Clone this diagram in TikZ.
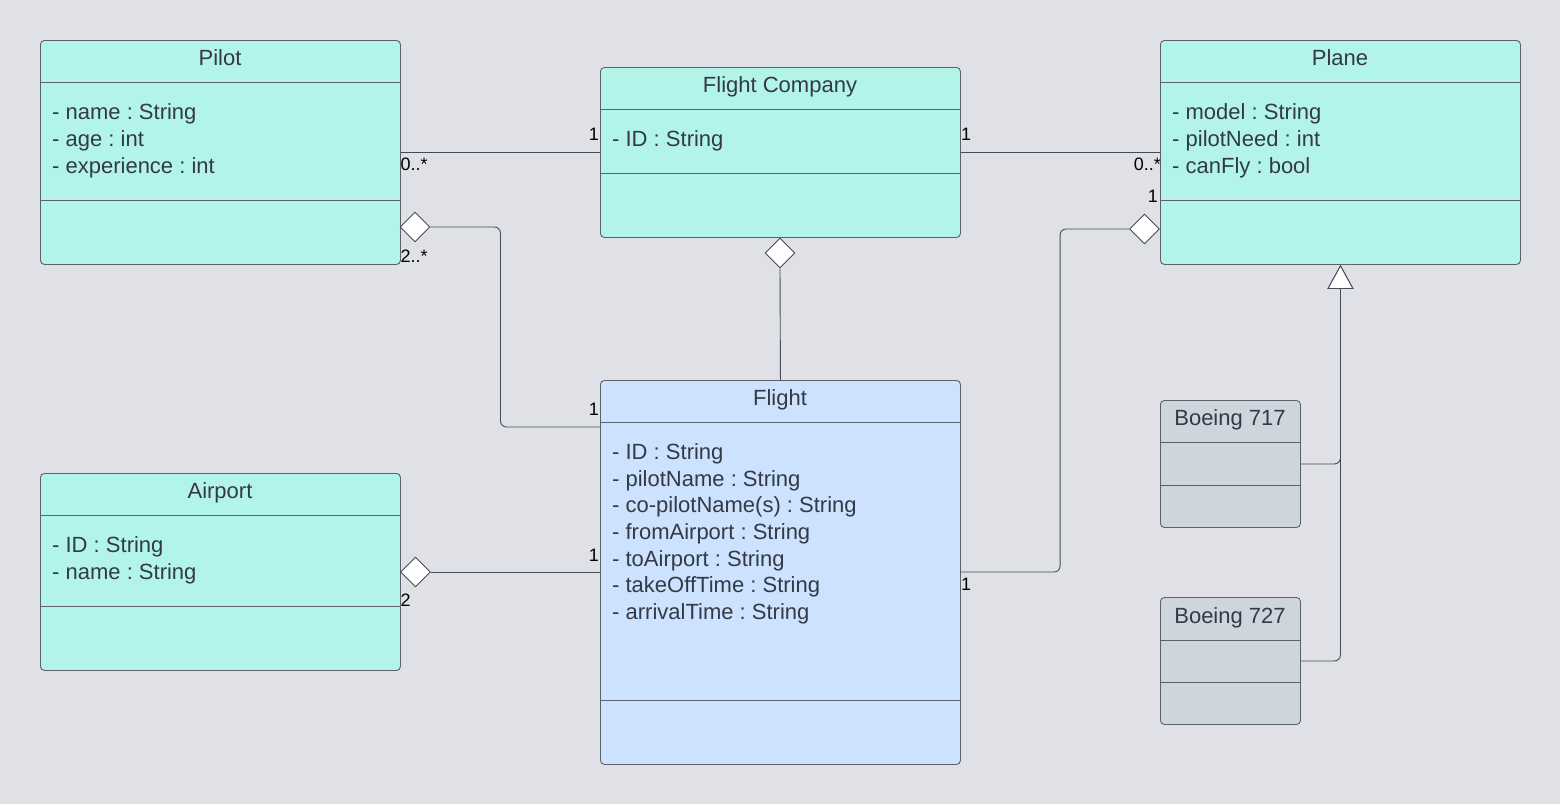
\documentclass[tikz,border=0pt]{standalone}
\usepackage{fontspec}
\setmainfont{Liberation Sans}
\usetikzlibrary{shapes.geometric,arrows.meta}
\frenchspacing
\definecolor{bgc}{HTML}{DFE1E6}
\definecolor{teal}{HTML}{B3F4EA}
\definecolor{blu}{HTML}{CCE2FE}
\definecolor{gry}{HTML}{CED5DD}
\definecolor{linec}{HTML}{5A616B}
\definecolor{connc}{HTML}{454B54}
\definecolor{txtc}{HTML}{333A45}
\tikzset{
  cls/.style={draw=linec, line width=0.9pt, rounded corners=4pt, anchor=north west, inner sep=0pt},
  div/.style={draw=linec, line width=0.9pt},
  ttl/.style={anchor=base, inner sep=0pt, text=txtc, font=\fontsize{22}{24}\selectfont},
  attr/.style={anchor=base west, inner sep=0pt, text=txtc, font=\fontsize{22}{24}\selectfont},
  mult/.style={inner sep=0pt, text=black, font=\fontsize{18}{20}\selectfont},
  conn/.style={draw=connc, line width=0.9pt, rounded corners=6pt},
  agg/.style={diamond, draw=connc, fill=white, line width=0.9pt, minimum width=30pt, minimum height=30pt, inner sep=0pt, aspect=1},
  gen/.style={-{Triangle[open, fill=white, length=24pt, width=26pt, line width=0.9pt]}}
}
\newcommand\attrlist[5]{% prefix, x, first baseline y, spacing, list
  \foreach \t [count=\i] in {#5} {\node[attr] (#1\i) at (#2, #3+#4*\i-#4) {\t};}}
\begin{document}
\begin{tikzpicture}[x=1pt,y=-1pt]
\useasboundingbox[fill=bgc] (0,0) rectangle (1560,804);

% Pilot
\node[cls, fill=teal, minimum width=360pt, minimum height=224pt] (pilot) at (40,40) {};
\draw[div] ([yshift=-42pt]pilot.north west) -- ([yshift=-42pt]pilot.north east);
\draw[div] ([yshift=-160pt]pilot.north west) -- ([yshift=-160pt]pilot.north east);
\node[ttl] (pilotT) at (220,65.5) {Pilot};
\attrlist{pa}{52}{119.5}{27}{- name : String,- age : int,- experience : int}

% Flight Company
\node[cls, fill=teal, minimum width=360pt, minimum height=170pt] (fc) at (600,67) {};
\draw[div] ([yshift=-42pt]fc.north west) -- ([yshift=-42pt]fc.north east);
\draw[div] ([yshift=-106pt]fc.north west) -- ([yshift=-106pt]fc.north east);
\node[ttl] (fcT) at (780,92.5) {Flight Company};
\attrlist{fca}{612}{146.5}{27}{- ID : String}

% Plane
\node[cls, fill=teal, minimum width=360pt, minimum height=224pt] (plane) at (1160,40) {};
\draw[div] ([yshift=-42pt]plane.north west) -- ([yshift=-42pt]plane.north east);
\draw[div] ([yshift=-160pt]plane.north west) -- ([yshift=-160pt]plane.north east);
\node[ttl] (planeT) at (1340,65.5) {Plane};
\attrlist{pla}{1172}{119.5}{27}{- model : String,- pilotNeed : int,- canFly : bool}

% Flight
\node[cls, fill=blu, minimum width=360pt, minimum height=384pt] (flight) at (600,380) {};
\draw[div] ([yshift=-42pt]flight.north west) -- ([yshift=-42pt]flight.north east);
\draw[div] ([yshift=-320pt]flight.north west) -- ([yshift=-320pt]flight.north east);
\node[ttl] (flightT) at (780,405.5) {Flight};
\attrlist{fa}{612}{459.5}{26.67}{- ID : String,- pilotName : String,- co-pilotName(s) : String,- fromAirport : String,- toAirport : String,- takeOffTime : String,- arrivalTime : String}

% Airport
\node[cls, fill=teal, minimum width=360pt, minimum height=197pt] (airport) at (40,473) {};
\draw[div] ([yshift=-42pt]airport.north west) -- ([yshift=-42pt]airport.north east);
\draw[div] ([yshift=-133pt]airport.north west) -- ([yshift=-133pt]airport.north east);
\node[ttl] (airportT) at (220,498.5) {Airport};
\attrlist{aa}{52}{552.5}{27}{- ID : String,- name : String}

% Boeing 717
\node[cls, fill=gry, minimum width=140pt, minimum height=127pt] (b717) at (1160,400) {};
\draw[div] ([yshift=-42pt]b717.north west) -- ([yshift=-42pt]b717.north east);
\draw[div] ([yshift=-85pt]b717.north west) -- ([yshift=-85pt]b717.north east);
\node[ttl] (b717T) at (1230,425.5) {Boeing 717};

% Boeing 727
\node[cls, fill=gry, minimum width=140pt, minimum height=127pt] (b727) at (1160,597) {};
\draw[div] ([yshift=-43pt]b727.north west) -- ([yshift=-43pt]b727.north east);
\draw[div] ([yshift=-85pt]b727.north west) -- ([yshift=-85pt]b727.north east);
\node[ttl] (b727T) at (1230,623.5) {Boeing 727};

% aggregation diamonds
\node[agg] (dpilot) at (415,227) {};
\node[agg] (dfc) at (780,253) {};
\node[agg] (dplane) at (1144.5,229) {};
\node[agg] (dair) at (415.5,572) {};

\coordinate (fl1) at (600,427);
\coordinate (fl2) at (960,572);
\coordinate (fl3) at (600,572);

% connectors
\draw[conn] (pilot.east) -- (fc.west);
\draw[conn] (fc.east) -- (plane.west);
\draw[conn] (dpilot.east) -- ++(70,0) |- (fl1);
\draw[conn] (dfc.south) -- (flight.north);
\draw[conn] (dplane.west) -- ++(-69,0) |- (fl2);
\draw[conn] (dair.east) -- (fl3);
\draw[conn, gen] (b717.east) -| (plane.south);
\draw[conn, gen] (b727.east) -| (plane.south);

% multiplicities
\node[mult, anchor=west] (m1) at (400.5,164) {0..*};
\node[mult, anchor=east] (m2) at (599,134) {1};
\node[mult, anchor=west] (m3) at (961,134) {1};
\node[mult, anchor=east] (m4) at (1161,164) {0..*};
\node[mult, anchor=east] (m5) at (1158,196) {1};
\node[mult, anchor=west] (m6) at (400.5,256) {2..*};
\node[mult, anchor=east] (m7) at (599,409) {1};
\node[mult, anchor=east] (m8) at (599,555) {1};
\node[mult, anchor=west] (m9) at (400.5,600) {2};
\node[mult, anchor=west] (m10) at (961,584) {1};
\end{tikzpicture}
\end{document}
